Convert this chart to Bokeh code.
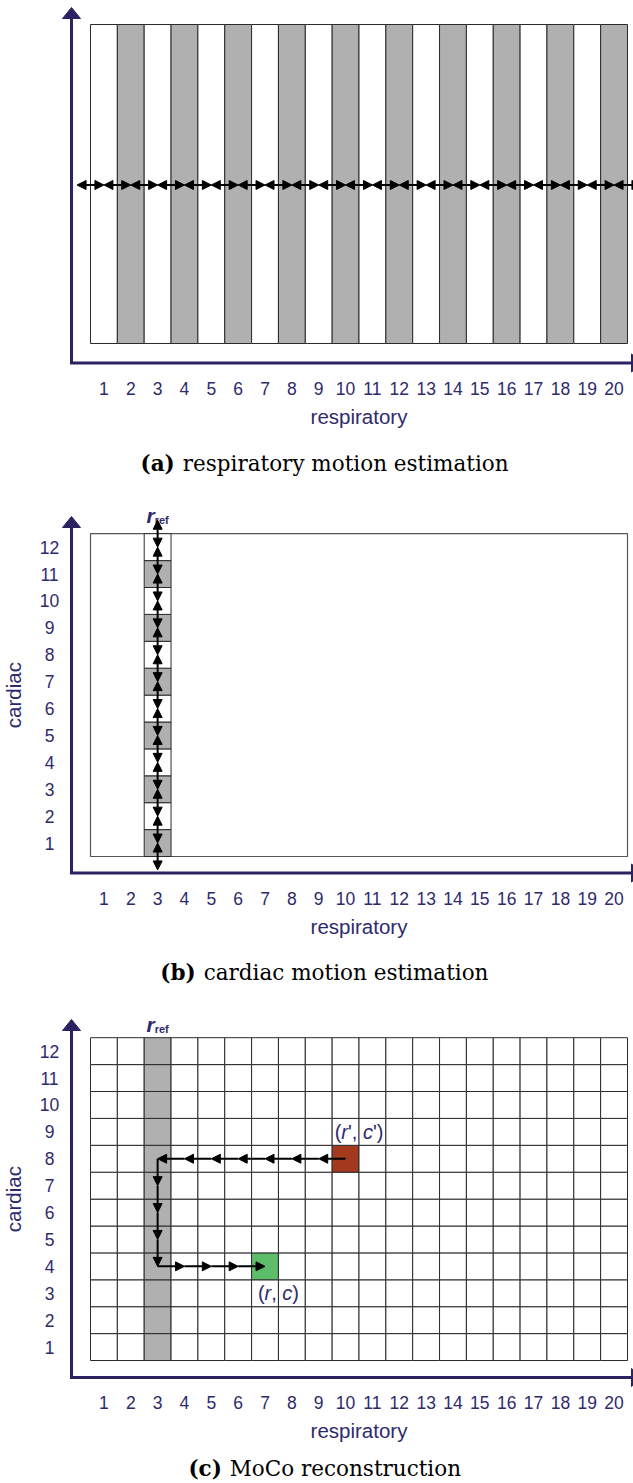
from bokeh.plotting import figure
from bokeh.layouts import column
from bokeh.models import Range1d, Arrow, NormalHead, ColumnDataSource
from bokeh.core.properties import value
from bokeh.embed import file_html
from bokeh.resources import INLINE

# ---- data -------------------------------------------------------------
respiratory = [1, 2, 3, 4, 5, 6, 7, 8, 9, 10, 11, 12, 13, 14, 15, 16, 17, 18, 19, 20]
cardiac = [1, 2, 3, 4, 5, 6, 7, 8, 9, 10, 11, 12]
resp_shaded = [2, 4, 6, 8, 10, 12, 14, 16, 18, 20]      # shaded respiratory bins (a)
r_ref = 3                                              # reference respiratory bin
card_shaded = [1, 3, 5, 7, 9, 11]                      # shaded cardiac bins (b)
src_bin = (10, 8)                                      # (r', c')
dst_bin = (7, 4)                                       # (r, c)
caption_tags = ["(a)", "(b)", "(c)"]
caption_texts = ["respiratory motion estimation",
                 "cardiac motion estimation",
                 "MoCo reconstruction"]

# ---- layout / style ---------------------------------------------------
PAGE_W = 633
BIN_W = 26.85
BIN_H = 26.9
GRID_X0 = 90
AXIS_X = 71
TICK_DY = 25          # tick labels below the axis line
LABEL_DY = 53         # axis title below the axis line
NAVY = "#2b2262"
TXT = "#2f2a6c"
GRAY = "#b0b0b0"
EDGE = "#2a2a2a"
RED = "#a3391f"
GREEN = "#5dbd6b"
SANS = value("Liberation Sans")
SERIF = value("DejaVu Serif")
TICK_SIZE = "17.5px"
LABEL_SIZE = "20.5px"
CAP_SIZE = 21.5
CAP_GAP = 8
CAP_CENTRE = 326.5
# approximate advance widths (em) of the caption tags / descriptions
TAG_EM = [1.37, 1.42, 1.33]
DESC_EM = [15.16, 13.26, 10.74]


class Panel:
    def __init__(self, offset, height, grid_top, grid_bottom):
        # offset: page y of the panel's top edge; grid_top/bottom in page px
        self.off = offset
        self.top = grid_top
        self.bottom = grid_bottom
        p = figure(width=PAGE_W, height=height, output_backend="svg",
                   toolbar_location=None,
                   x_range=Range1d(self.xd(0), self.xd(PAGE_W)),
                   y_range=Range1d(self.yd(offset + height), self.yd(offset)),
                   x_axis_type=None, y_axis_type=None, min_border=0)
        p.outline_line_color = None
        p.background_fill_color = "white"
        self.p = p

    def xd(self, px):
        return 0.5 + (px - GRID_X0) / BIN_W

    def yd(self, py):
        return 0.5 + (self.bottom - py) / BIN_H


def draw_axes(pn, axis_py, tip_py):
    p = pn.p
    x0 = pn.xd(AXIS_X)
    yb = pn.yd(axis_py)
    p.line([x0, x0, pn.xd(632)], [pn.yd(tip_py + 9), yb, yb],
           line_width=3, line_color=NAVY, line_join="miter")
    p.patch([pn.xd(AXIS_X - 9), pn.xd(AXIS_X + 9), x0],
            [pn.yd(tip_py + 11)] * 2 + [pn.yd(tip_py)], color=NAVY)
    p.patch([pn.xd(631), pn.xd(631), pn.xd(642)],
            [pn.yd(axis_py - 9), pn.yd(axis_py + 9), yb], color=NAVY)
    p.text(x=respiratory, y=[pn.yd(axis_py + TICK_DY)] * len(respiratory),
           text=[str(v) for v in respiratory], text_font=SANS,
           text_font_size=TICK_SIZE, text_color=TXT,
           text_align="center", text_baseline="middle")
    p.text(x=[(respiratory[0] + respiratory[-1]) / 2], y=[pn.yd(axis_py + LABEL_DY)],
           text=["respiratory"], text_font=SANS, text_font_size=LABEL_SIZE,
           text_color=TXT, text_align="center", text_baseline="middle")


def draw_cardiac_axis(pn):
    p = pn.p
    p.text(x=[pn.xd(49)] * len(cardiac), y=cardiac,
           text=[str(v) for v in cardiac], text_font=SANS,
           text_font_size=TICK_SIZE, text_color=TXT,
           text_align="center", text_baseline="middle")
    p.text(x=[pn.xd(13)], y=[(cardiac[0] + cardiac[-1]) / 2], text=["cardiac"],
           angle=1.5708, text_font=SANS, text_font_size=LABEL_SIZE,
           text_color=TXT, text_align="center", text_baseline="middle")


def draw_caption(pn, i, baseline_py):
    # bold tag followed by the plain description, centred as one line
    p = pn.p
    tw = TAG_EM[i] * CAP_SIZE
    dw = DESC_EM[i] * CAP_SIZE
    split = CAP_CENTRE - (tw + CAP_GAP + dw) / 2 + tw
    xs = pn.xd(split)
    p.text(x=[xs], y=[pn.yd(baseline_py)], text=[caption_tags[i]], text_font=SERIF,
           text_font_style="bold", text_font_size=f"{CAP_SIZE}px", text_color="black",
           text_align="right", text_baseline="alphabetic")
    p.text(x=[xs], y=[pn.yd(baseline_py)], text=[caption_texts[i]], text_font=SERIF,
           text_font_size=f"{CAP_SIZE}px", text_color="black",
           text_align="left", text_baseline="alphabetic", x_offset=CAP_GAP)


def draw_rref(pn, base_py):
    p = pn.p
    p.text(x=[r_ref], y=[pn.yd(base_py)], text=["r"], text_font=SANS,
           text_font_style="bold italic", text_font_size="21px", text_color=TXT,
           text_align="right", text_baseline="alphabetic", x_offset=-3)
    p.text(x=[r_ref], y=[pn.yd(base_py + 4)], text=["ref"], text_font=SANS,
           text_font_style="bold", text_font_size="11px", text_color=TXT,
           text_align="left", text_baseline="alphabetic", x_offset=-3)


def arrows(p, x0, y0, x1, y1, both, size=9):
    src = ColumnDataSource(dict(x0=x0, y0=y0, x1=x1, y1=y1))
    head = dict(size=size, fill_color="black", line_color="black", line_width=1)
    arr = Arrow(end=NormalHead(**head), start=NormalHead(**head) if both else None,
                x_start="x0", y_start="y0", x_end="x1", y_end="y1",
                source=src, line_width=2, line_color="black")
    p.add_layout(arr)


def pieces(p, x, y, parts, size):
    # parts: (string, italic, advance width in em)
    total = sum(w for _, _, w in parts) * size
    off = -total / 2
    for s, it, w in parts:
        p.text(x=[x], y=[y], text=[s], text_font=SANS,
               text_font_style="italic" if it else "normal",
               text_font_size=f"{size}px", text_color=TXT,
               text_align="left", text_baseline="middle", x_offset=off)
        off += w * size


# ---- (a) respiratory motion estimation --------------------------------
A = Panel(0, 482, 24, 343)
pa = A.p
pa.quad(left=[r - 0.5 for r in respiratory], right=[r + 0.5 for r in respiratory],
        bottom=A.yd(A.bottom), top=A.yd(A.top),
        fill_color=[GRAY if r in resp_shaded else "white" for r in respiratory],
        line_color=EDGE, line_width=1)
ends = [respiratory[0] - 1] + respiratory + [respiratory[-1] + 1]
ymid = A.yd((A.top + A.bottom) / 2 + 1)
arrows(pa, ends[:-1], [ymid] * (len(ends) - 1), ends[1:], [ymid] * (len(ends) - 1), True)
draw_axes(A, 362.5, 7)
draw_caption(A, 0, 463)

# ---- (b) cardiac motion estimation ------------------------------------
B = Panel(482, 508, 533, 856)
pb = B.p
pb.quad(left=[0.5], right=[20.5], bottom=[0.5], top=[12.5],
        fill_color="white", line_color="#555555", line_width=1.2)
pb.quad(left=r_ref - 0.5, right=r_ref + 0.5,
        bottom=[c - 0.5 for c in cardiac], top=[c + 0.5 for c in cardiac],
        fill_color=[GRAY if c in card_shaded else "white" for c in cardiac],
        line_color=EDGE, line_width=1)
cends = [cardiac[0] - 1] + cardiac + [cardiac[-1] + 1]
arrows(pb, [r_ref] * (len(cends) - 1), cends[:-1], [r_ref] * (len(cends) - 1), cends[1:], True)
draw_axes(B, 872.5, 516)
draw_cardiac_axis(B)
draw_rref(B, 515)
draw_caption(B, 1, 972)

# ---- (c) MoCo reconstruction ------------------------------------------
C = Panel(990, 493, 1037, 1360)
pc = C.p
cells_r = [r for c in cardiac for r in respiratory]
cells_c = [c for c in cardiac for r in respiratory]


def cell_color(r, c):
    if (r, c) == src_bin:
        return RED
    if (r, c) == dst_bin:
        return GREEN
    if r == r_ref:
        return GRAY
    return "white"


pc.quad(left=[r - 0.5 for r in cells_r], right=[r + 0.5 for r in cells_r],
        bottom=[c - 0.5 for c in cells_c], top=[c + 0.5 for c in cells_c],
        fill_color=[cell_color(r, c) for r, c in zip(cells_r, cells_c)],
        line_color=EDGE, line_width=1)

# path (r', c') -> (r_ref, c') -> (r_ref, c) -> (r, c)
rs, cs = src_bin
rt, ct = dst_bin
hx = list(range(rs, r_ref, -1))
arrows(pc, hx, [cs] * len(hx), [x - 1 for x in hx], [cs] * len(hx), False)
vy = list(range(cs, ct, -1))
arrows(pc, [r_ref] * len(vy), vy, [r_ref] * len(vy), [y - 1 for y in vy], False)
rx = list(range(r_ref, rt))
arrows(pc, rx, [ct] * len(rx), [x + 1 for x in rx], [ct] * len(rx), False)

pieces(pc, rs + 0.5, cs + 1, [("(", False, 0.333), ("r", True, 0.333),
                              ("', ", False, 0.747), ("c", True, 0.5),
                              ("')", False, 0.524)], 20)
pieces(pc, rt + 0.5, ct - 1, [("(", False, 0.333), ("r", True, 0.333),
                              (", ", False, 0.556), ("c", True, 0.5),
                              (")", False, 0.333)], 20)

draw_axes(C, 1377, 1019)
draw_cardiac_axis(C)
draw_rref(C, 1024)
draw_caption(C, 2, 1468)

layout = column(pa, pb, pc, spacing=0)
open("out.html", "w").write(file_html(layout, INLINE))
